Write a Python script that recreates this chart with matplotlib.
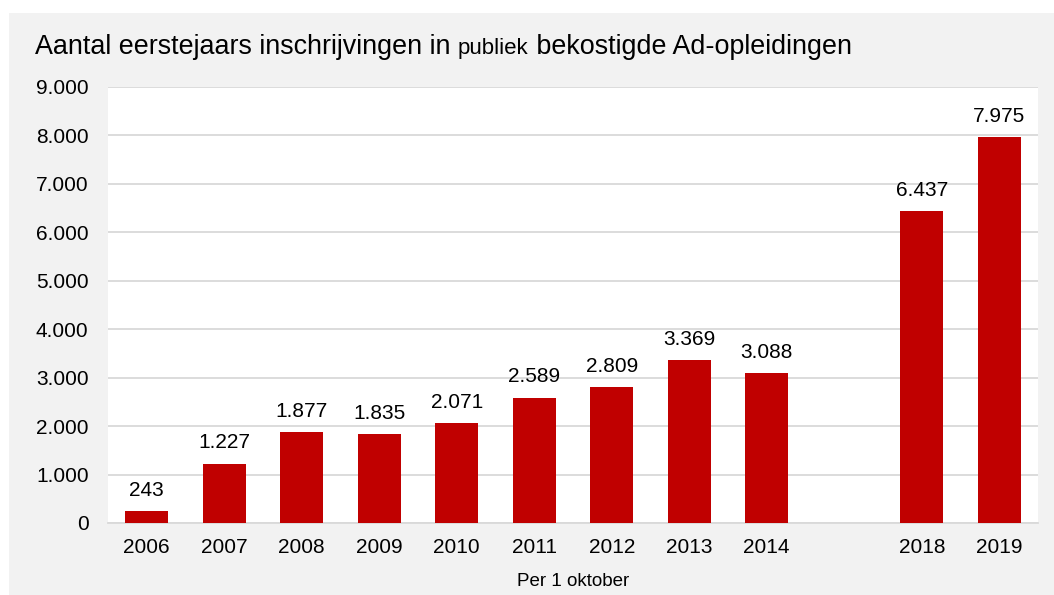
import matplotlib.pyplot as plt
import numpy as np
from matplotlib.patches import Rectangle
from matplotlib.ticker import FuncFormatter

plt.rcParams['font.family'] = ['Liberation Sans', 'DejaVu Sans']

years = ['2006', '2007', '2008', '2009', '2010', '2011', '2012', '2013', '2014', '', '2018', '2019']
values = [243, 1227, 1877, 1835, 2071, 2589, 2809, 3369, 3088, np.nan, 6437, 7975]
yticks = np.arange(0, 9001, 1000)

red = '#c00000'
grid_col = '#d9d9d9'

fig = plt.figure(figsize=(10.54, 5.95), dpi=100, facecolor='white')
fig.add_artist(Rectangle((9/1054, 0), 1, (595-13)/595, transform=fig.transFigure,
                         facecolor='#f2f2f2', edgecolor='none', zorder=-10))

ax = fig.add_axes([108/1054, (595-523)/595, (1038-108)/1054, (523-87)/595])
ax.set_facecolor('white')

x = np.arange(len(years))
ax.bar(x, values, width=0.55, color=red, zorder=3)

def dots(v, pos=None):
    return f'{int(v):,}'.replace(',', '.')

for xi, v in zip(x, values):
    if np.isnan(v):
        continue
    ax.annotate(dots(v), (xi, v), xytext=(0, 8), textcoords='offset points',
                ha='center', va='bottom', fontsize=15)

ax.set_xlim(-0.5, len(years) - 0.5)
ax.set_ylim(0, 9000)
ax.set_yticks(yticks)
ax.yaxis.set_major_formatter(FuncFormatter(dots))
ax.set_xticks(x)
ax.set_xticklabels(years)
ax.tick_params(axis='both', length=0, labelsize=15)
ax.tick_params(axis='y', pad=14)
ax.tick_params(axis='x', pad=11)
ax.grid(axis='y', color=grid_col, linewidth=1.3, zorder=0)
for s in ['top', 'right', 'left']:
    ax.spines[s].set_visible(False)
ax.spines['bottom'].set_color(grid_col)
ax.spines['bottom'].set_linewidth(1.3)

ax.set_xlabel('Per 1 oktober', fontsize=13.5, labelpad=11)

# title with a smaller middle word
renderer = fig.canvas.get_renderer()
ty = (595 - 54) / 595
tx = 35 / 1054
parts = [('Aantal eerstejaars inschrijvingen in ', 19.4), ('publiek', 16), (' bekostigde Ad-opleidingen', 19.4)]
for txt, size in parts:
    t = fig.text(tx, ty, txt, fontsize=size, ha='left', va='baseline')
    bb = t.get_window_extent(renderer)
    tx = bb.x1 / fig.bbox.width

fig.savefig('out.png', dpi=100, facecolor=fig.get_facecolor())
